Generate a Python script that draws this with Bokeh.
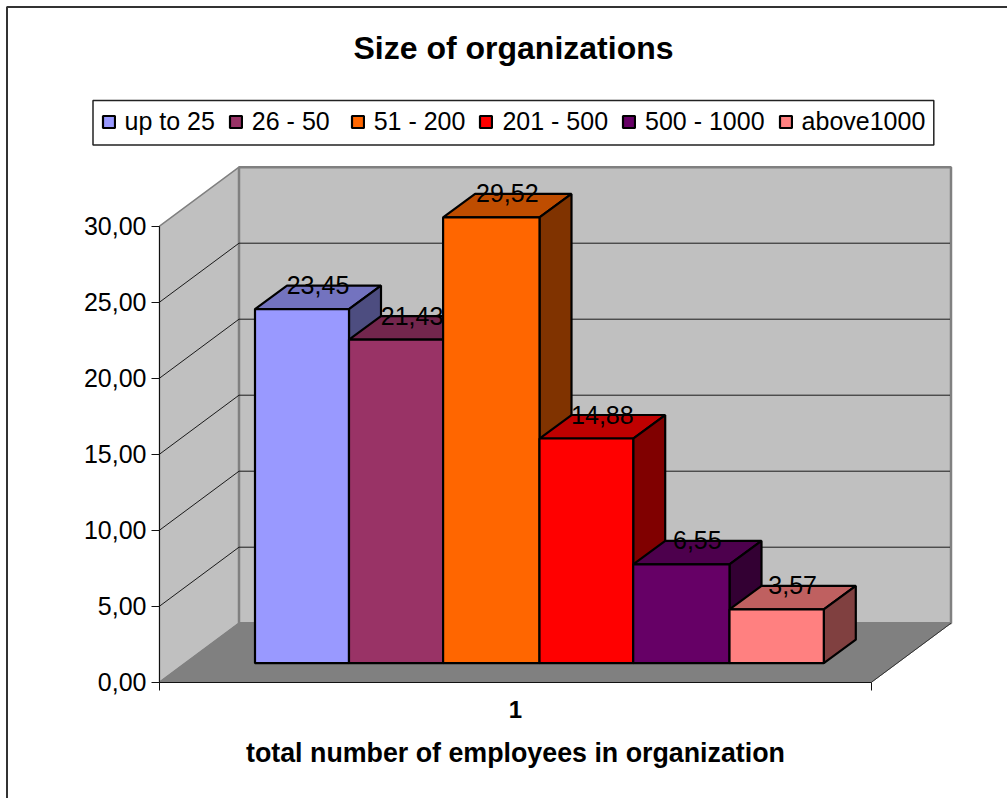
from bokeh.plotting import figure
from bokeh.models import Range1d, FixedTicker, Legend, LegendItem, LinearAxis
from bokeh.core.properties import value
from bokeh.embed import file_html
from bokeh.resources import INLINE

# ---- chart data ----
categories = ["up to 25", "26 - 50", "51 - 200", "201 - 500", "500 - 1000", "above1000"]
legend_labels = ["up to 25", "26 - 50 ", "51 - 200", "201 - 500", "500 - 1000", "above1000"]
values = [23.45, 21.43, 29.52, 14.88, 6.55, 3.57]
front_colors = ["#9999FF", "#993366", "#FF6600", "#FF0000", "#660066", "#FF8080"]
top_colors = ["#7373BF", "#73264D", "#BF4D00", "#BF0000", "#4D004D", "#BF6060"]
side_colors = ["#4D4D80", "#4D1A33", "#803300", "#800000", "#330033", "#804040"]
y_ticks = [0, 5, 10, 15, 20, 25, 30]
y_tick_labels = ["0,00", "5,00", "10,00", "15,00", "20,00", "25,00", "30,00"]
x_tick_label = "1"
title_text = "Size of organizations"
x_title = "total number of employees in organization"

# ---- layout constants (pixels) ----
W, H = 1007, 798
Y0 = 681.7            # pixel row of value 0 on the front axis
PX = 15.2             # pixels per value unit
AX_L, AX_R = 159.0, 871.0
WALL_DX, WALL_DY = 79.5, 59.0 / PX
BAR_EDGES = [254.5, 348.5, 442.6, 539.0, 632.7, 729.0, 823.3]
BAR_BASE = (Y0 - 662.7) / PX
BAR_K = 15.1 / PX
DEPTH_X, DEPTH_Y = 32.0, 23.5 / PX
FONT = "Liberation Sans"


def py(pixel_row):
    return (Y0 - pixel_row) / PX


p = figure(width=W, height=H, output_backend="svg", toolbar_location=None,
           x_range=Range1d(0, W), y_range=Range1d(py(H), py(0)),
           min_border=0, x_axis_location=None, y_axis_location=None)
p.grid.visible = False
p.outline_line_color = None
p.background_fill_color = "white"
p.border_fill_color = "white"

# outer chart frame (runs off the image at right and bottom)
p.line([W, 6.5, 6.5], [py(6.5), py(6.5), py(H)], line_color="#333333", line_width=2)

top = y_ticks[-1]
# walls and floor
p.patch([AX_L, AX_L + WALL_DX, AX_L + WALL_DX, AX_L], [0, WALL_DY, top + WALL_DY, top],
        fill_color="#C0C0C0", line_color="#808080", line_width=1.5)
p.patch([AX_L + WALL_DX, AX_R + WALL_DX, AX_R + WALL_DX, AX_L + WALL_DX],
        [WALL_DY, WALL_DY, top + WALL_DY, top + WALL_DY],
        fill_color="#C0C0C0", line_color="#808080", line_width=2.5)
p.patch([AX_L, AX_R, AX_R + WALL_DX, AX_L + WALL_DX], [0, 0, WALL_DY, WALL_DY],
        fill_color="#808080", line_color="#808080", line_width=1)
p.line([AX_R, AX_R + WALL_DX], [0, WALL_DY], line_color="#333333", line_width=1)

# gridlines on both walls
for t in y_ticks[1:-1]:
    p.line([AX_L, AX_L + WALL_DX, AX_R + WALL_DX - 1],
           [t, t + WALL_DY, t + WALL_DY], line_color="#1a1a1a", line_width=1)

# legend box
p.quad(left=92.5, right=933.3, top=py(100), bottom=py(144.5),
       fill_color="white", line_color="#222222", line_width=1.5)

# bars, back to front from left to right
items = []
for i, v in enumerate(values):
    x0 = BAR_EDGES[i]
    x1 = BAR_EDGES[i + 1]
    yt = BAR_BASE + v * BAR_K
    p.patch([x0, x1, x1 + DEPTH_X, x0 + DEPTH_X],
            [yt, yt, yt + DEPTH_Y, yt + DEPTH_Y],
            fill_color=top_colors[i], line_color="black", line_width=2.2)
    p.patch([x1, x1 + DEPTH_X, x1 + DEPTH_X, x1],
            [BAR_BASE, BAR_BASE + DEPTH_Y, yt + DEPTH_Y, yt],
            fill_color=side_colors[i], line_color="black", line_width=2.2)
    r = p.quad(left=x0, right=x1, bottom=BAR_BASE, top=yt,
               fill_color=front_colors[i], line_color="black", line_width=2.2)
    items.append(LegendItem(label=legend_labels[i], renderers=[r]))

# data labels
lab_x = [(BAR_EDGES[i] + BAR_EDGES[i + 1]) / 2 + DEPTH_X / 2 for i in range(len(values))]
lab_y = [BAR_BASE + v * BAR_K + DEPTH_Y + 0.5 / PX for v in values]
lab_t = [f"{v:.2f}".replace(".", ",") for v in values]
p.text(lab_x, lab_y, text=lab_t, text_align="center", text_baseline="alphabetic",
       text_font=value(FONT), text_font_size="25px", text_color="black")

# title
p.text([513], [py(47)], text=[title_text], text_align="center", text_baseline="alphabetic",
       text_font=value(FONT), text_font_style="bold", text_font_size="32px", text_color="black")

# axes drawn inside the frame
ya = LinearAxis(fixed_location=AX_L, bounds=(0, top), ticker=FixedTicker(ticks=y_ticks),
                major_label_overrides=dict(zip(y_ticks, y_tick_labels)))
ya.major_tick_out = 8
ya.major_tick_in = 0
ya.minor_tick_out = 0
ya.minor_tick_in = 0
ya.major_label_standoff = 5
ya.major_label_text_font = FONT
ya.major_label_text_font_size = "25px"
ya.major_label_text_color = "black"
ya.axis_line_color = "#111111"
ya.major_tick_line_color = "#111111"
p.add_layout(ya, "left")

xc = (AX_L + AX_R) / 2
xa = LinearAxis(fixed_location=0, bounds=(AX_L, AX_R),
                ticker=FixedTicker(ticks=[xc], minor_ticks=[AX_L, AX_R]),
                major_label_overrides={xc: x_tick_label})
xa.major_tick_out = 0
xa.major_tick_in = 0
xa.minor_tick_out = 8
xa.minor_tick_in = 0
xa.major_label_standoff = 11
xa.major_label_text_font = FONT
xa.major_label_text_font_style = "bold"
xa.major_label_text_font_size = "24px"
xa.major_label_text_color = "black"
xa.axis_label = x_title
xa.axis_label_standoff = 16
xa.axis_label_text_font = FONT
xa.axis_label_text_font_style = "bold"
xa.axis_label_text_font_size = "26.8px"
xa.axis_label_text_color = "black"
xa.axis_line_color = "#111111"
xa.minor_tick_line_color = "#111111"
p.add_layout(xa, "below")

# legend
leg = Legend(items=items, orientation="horizontal", location=(100.5, H - 136),
             margin=0, padding=6, spacing=13, label_standoff=9,
             glyph_width=15, glyph_height=15,
             label_text_font=FONT, label_text_font_size="25px", label_text_color="black",
             border_line_color=None, background_fill_alpha=0)
p.add_layout(leg, "center")

open("out.html", "w").write(file_html(p, INLINE))
